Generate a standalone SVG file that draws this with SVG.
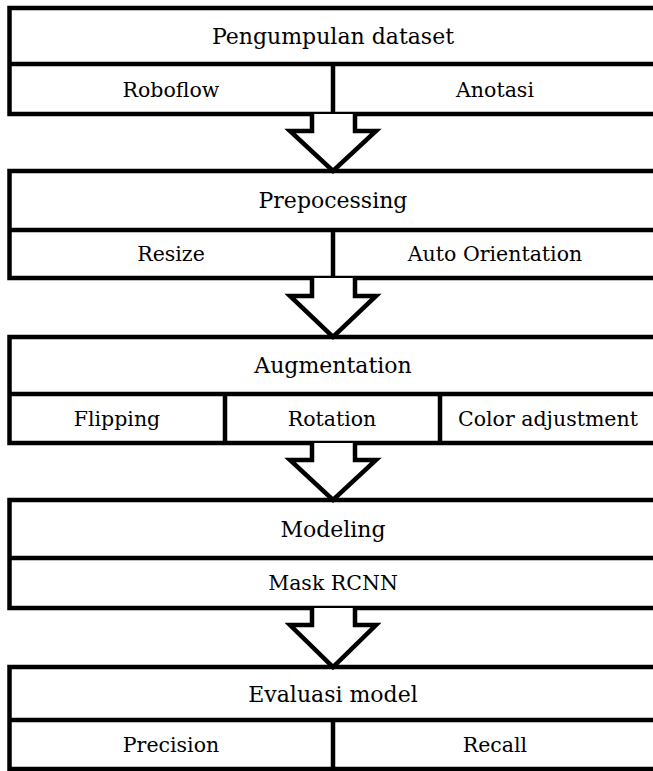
<svg xmlns="http://www.w3.org/2000/svg" width="653" height="771" viewBox="0 0 653 771">
  <style>
    .box { fill: #ffffff; stroke: #000000; stroke-width: 4.5; }
    .sep { fill: none; stroke: #000000; stroke-width: 4.5; }
    .arrow { fill: #ffffff; stroke: #000000; stroke-width: 4.5; stroke-linejoin: miter; }
    .title { font-family: "DejaVu Serif", "Liberation Serif", serif; font-size: 22px; fill: #000; text-anchor: middle; }
    .sub { font-family: "DejaVu Serif", "Liberation Serif", serif; font-size: 20.5px; fill: #000; text-anchor: middle; }
  </style>
  <rect width="653" height="771" fill="#ffffff"/>

  <!-- stage 1 -->
  <g id="pengumpulan">
    <rect class="box" x="9.5" y="8" width="650" height="106"/>
    <line class="sep" x1="9.5" y1="64" x2="660" y2="64"/>
    <line class="sep" x1="333" y1="64" x2="333" y2="114"/>
    <text class="title" x="333" y="44">Pengumpulan dataset</text>
    <text class="sub" x="171" y="97">Roboflow</text>
    <text class="sub" x="495" y="97">Anotasi</text>
  </g>

  <!-- stage 2 -->
  <g id="prepocessing">
    <rect class="box" x="9.5" y="171" width="650" height="107"/>
    <line class="sep" x1="9.5" y1="230" x2="660" y2="230"/>
    <line class="sep" x1="333" y1="230" x2="333" y2="278"/>
    <text class="title" x="333" y="208">Prepocessing</text>
    <text class="sub" x="171" y="261">Resize</text>
    <text class="sub" x="495" y="261">Auto Orientation</text>
  </g>

  <!-- stage 3 -->
  <g id="augmentation">
    <rect class="box" x="9.5" y="337" width="650" height="106"/>
    <line class="sep" x1="9.5" y1="394" x2="660" y2="394"/>
    <line class="sep" x1="225" y1="394" x2="225" y2="443"/>
    <line class="sep" x1="440" y1="394" x2="440" y2="443"/>
    <text class="title" x="333" y="373">Augmentation</text>
    <text class="sub" x="117" y="426">Flipping</text>
    <text class="sub" x="332" y="426">Rotation</text>
    <text class="sub" x="548" y="426">Color adjustment</text>
  </g>

  <!-- stage 4 -->
  <g id="modeling">
    <rect class="box" x="9.5" y="500" width="650" height="108"/>
    <line class="sep" x1="9.5" y1="558" x2="660" y2="558"/>
    <text class="title" x="333" y="537">Modeling</text>
    <text class="sub" x="333" y="590">Mask RCNN</text>
  </g>

  <!-- stage 5 -->
  <g id="evaluasi">
    <rect class="box" x="9.5" y="667" width="650" height="102"/>
    <line class="sep" x1="9.5" y1="720" x2="660" y2="720"/>
    <line class="sep" x1="333" y1="720" x2="333" y2="769"/>
    <text class="title" x="333" y="702">Evaluasi model</text>
    <text class="sub" x="171" y="752">Precision</text>
    <text class="sub" x="495" y="752">Recall</text>
  </g>

  <!-- block arrows between stages -->
  <g id="connectors">
    <path class="arrow" d="M312,114 V131 H290 L333,171 L376,131 H355 V114"/>
    <path class="arrow" d="M312,278 V296 H290 L333,337 L376,296 H355 V278"/>
    <path class="arrow" d="M312,443 V460 H290 L333,500 L376,460 H355 V443"/>
    <path class="arrow" d="M312,608 V625 H290 L333,667 L376,625 H355 V608"/>
  </g>
</svg>
